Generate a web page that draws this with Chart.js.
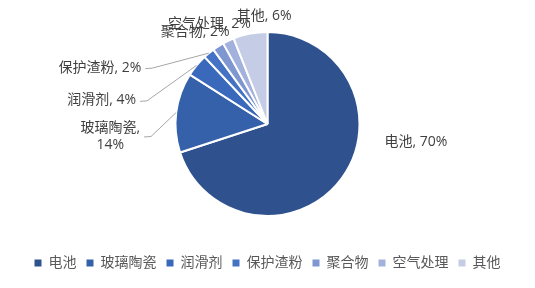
<!DOCTYPE html>
<html>
<head>
<meta charset="utf-8">
<script src="https://cdn.jsdelivr.net/npm/chart.js@4.4.1/dist/chart.umd.min.js"></script>
<style>
  html, body { margin: 0; padding: 0; background: #ffffff; }
  #wrap { width: 535px; height: 288px; position: relative; }
</style>
</head>
<body>
<div id="wrap"><canvas id="c" width="535" height="288"></canvas></div>
<script>
// Usage share by application
const categories = ['电池', '玻璃陶瓷', '润滑剂', '保护渣粉', '聚合物', '空气处理', '其他'];
const shares = [70, 14, 4, 2, 2, 2, 6];
const sliceColors = ['#2F528F', '#3561AA', '#3A69BC', '#4472C4', '#7F97D1', '#A3B2DD', '#C5CDE6'];

const FONT = '"Open Sans", "Noto Sans CJK SC", sans-serif';

// Label offsets from each slice's outer mid-point, and optional leader lines
const labelLayout = [
  { dx: 74,   dy: -36 },
  { dx: -66,  dy: 24,  wrap: true, leader: { dy: 0.5 } },
  { dx: -95,  dy: 35,  leader: { dy: 1 } },
  { dx: -109, dy: 15,  leader: { dy: 0.5 } },
  { dx: -23,  dy: -14 },
  { dx: -19,  dy: -17 },
  { dx: 14,   dy: -18 }
];

const outsideLabels = {
  id: 'outsideLabels',
  afterDatasetsDraw(chart) {
    const ctx = chart.ctx;
    const meta = chart.getDatasetMeta(0);
    ctx.save();
    ctx.font = '14px ' + FONT;
    ctx.fillStyle = '#404040';
    ctx.textAlign = 'center';
    ctx.textBaseline = 'middle';
    meta.data.forEach((arc, i) => {
      const p = arc.getProps(['x', 'y', 'startAngle', 'endAngle', 'outerRadius'], true);
      const mid = (p.startAngle + p.endAngle) / 2;
      const ax = p.x + Math.cos(mid) * p.outerRadius;
      const ay = p.y + Math.sin(mid) * p.outerRadius;
      const lay = labelLayout[i];
      const cx = ax + lay.dx;
      const cy = ay + lay.dy;
      let lines = [categories[i] + ', ' + shares[i] + '%'];
      if (lay.wrap) lines = [categories[i] + ',', shares[i] + '%'];
      const lh = 16.8;
      const maxW = Math.max(...lines.map(l => ctx.measureText(l).width));
      lines.forEach((l, k) => {
        ctx.fillText(l, cx, cy + (k - (lines.length - 1) / 2) * lh);
      });
      if (lay.leader) {
        const sx = cx + maxW / 2 + 4;
        const sy = cy + lay.leader.dy;
        ctx.beginPath();
        ctx.strokeStyle = '#A6A6A6';
        ctx.lineWidth = 1;
        ctx.moveTo(sx, sy);
        ctx.lineTo(sx + 7, sy - 0.5);
        ctx.lineTo(ax, ay);
        ctx.stroke();
      }
    });
    ctx.restore();
  }
};

new Chart(document.getElementById('c'), {
  type: 'pie',
  data: {
    labels: categories,
    datasets: [{
      data: shares,
      backgroundColor: sliceColors,
      borderColor: '#ffffff',
      borderWidth: 2,
      radius: 92
    }]
  },
  options: {
    responsive: false,
    animation: false,
    layout: { padding: { top: 2, bottom: 8, left: 0, right: 0 } },
    plugins: {
      tooltip: { enabled: false },
      legend: {
        position: 'bottom',
        labels: {
          boxWidth: 7,
          boxHeight: 7,
          padding: 10,
          color: '#595959',
          font: { size: 14, family: FONT },
          generateLabels(chart) {
            const items = Chart.overrides.pie.plugins.legend.labels.generateLabels(chart);
            return items.map(it => Object.assign(it, { lineWidth: 0, strokeStyle: 'rgba(0,0,0,0)' }));
          }
        }
      }
    }
  },
  plugins: [outsideLabels]
});
</script>
</body>
</html>
